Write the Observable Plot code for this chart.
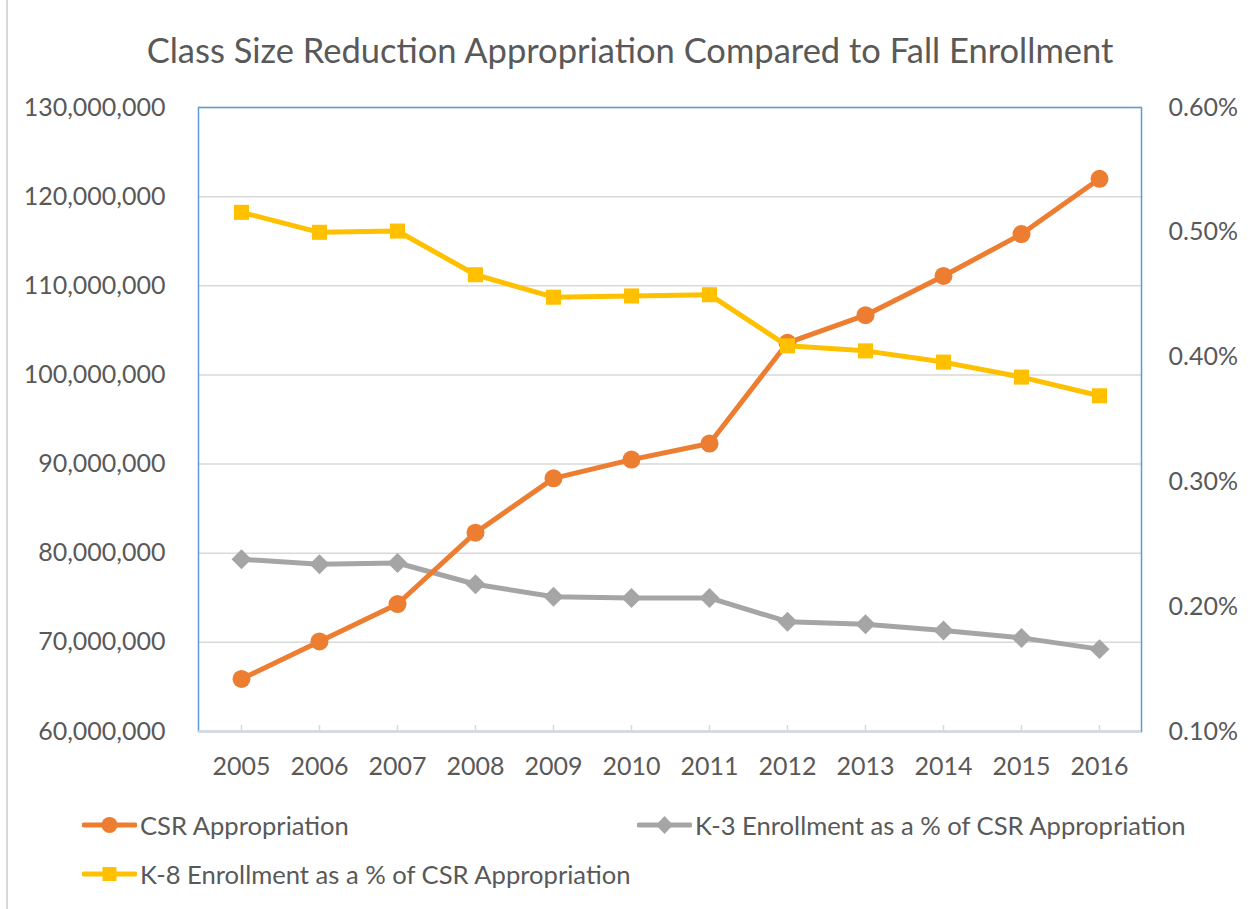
<!DOCTYPE html>
<html>
<head>
<meta charset="utf-8">
<script src="https://cdn.jsdelivr.net/npm/d3@7"></script>
<script src="https://cdn.jsdelivr.net/npm/@observablehq/plot@0.6"></script>
<style>
  html, body { margin: 0; padding: 0; background: #fff; }
  body { width: 1252px; height: 909px; overflow: hidden; position: relative; font-family: Lato, "Open Sans", sans-serif; color: #595959; }
  #edge { position: absolute; left: 6px; top: 0; width: 2px; height: 909px; background: #d9d9d9; }
  #title { height: 80px; width: 1252px; text-align: center; font-size: 34.5px; line-height: 100px; padding-left: 8px; box-sizing: border-box; white-space: nowrap; }
  #legend { position: relative; height: 109px; width: 1252px; font-size: 25.6px; }
  .item { position: absolute; display: flex; align-items: center; white-space: nowrap; }
  .item svg { margin-right: 3px; }
</style>
</head>
<body>
<div id="edge"></div>
<div id="title">Class Size Reduction Appropriation Compared to Fall Enrollment</div>
<div id="chart"></div>
<div id="legend"></div>
<script>
const years = [2005, 2006, 2007, 2008, 2009, 2010, 2011, 2012, 2013, 2014, 2015, 2016];
const csrAppropriation = [65.9e6, 70.1e6, 74.3e6, 82.3e6, 88.4e6, 90.5e6, 92.3e6, 103.6e6, 106.7e6, 111.1e6, 115.8e6, 122.0e6];
const k3Percent = [0.238, 0.234, 0.235, 0.218, 0.208, 0.207, 0.207, 0.188, 0.186, 0.181, 0.175, 0.166];
const k8Percent = [0.516, 0.500, 0.501, 0.466, 0.448, 0.449, 0.450, 0.409, 0.405, 0.396, 0.384, 0.369];
const leftTicks = [60e6, 70e6, 80e6, 90e6, 100e6, 110e6, 120e6, 130e6];
const rightTicks = [0.10, 0.20, 0.30, 0.40, 0.50, 0.60];
const seriesNames = ["CSR Appropriation", "K-3 Enrollment as a % of CSR Appropriation", "K-8 Enrollment as a % of CSR Appropriation"];
const seriesColors = ["#ed7d31", "#a5a5a5", "#ffc000"];

// secondary (percent) axis mapped onto primary domain
const leftMin = 60e6, leftMax = 130e6, rightMin = 0.10, rightMax = 0.60;
const toLeft = p => leftMin + (p - rightMin) / (rightMax - rightMin) * (leftMax - leftMin);
const toRight = v => rightMin + (v - leftMin) / (leftMax - leftMin) * (rightMax - rightMin);

const csrData = years.map((year, i) => ({year, value: csrAppropriation[i]}));
const k3Data = years.map((year, i) => ({year, value: k3Percent[i]}));
const k8Data = years.map((year, i) => ({year, value: k8Percent[i]}));

const textColor = "#595959";
const gridColor = "#d9d9d9";
const frameColor = "#5b9bd5";
const axisFont = 25;

const chart = Plot.plot({
  width: 1252,
  height: 720,
  marginTop: 27,
  marginBottom: 69,
  marginLeft: 198,
  marginRight: 111,
  style: {fontFamily: "Lato, 'Open Sans', sans-serif", fontSize: axisFont + "px", color: textColor, background: "transparent"},
  x: {type: "point", domain: years, padding: 0.5},
  y: {domain: [leftMin, leftMax]},
  marks: [
    Plot.gridY(leftTicks, {stroke: gridColor, strokeOpacity: 1, strokeWidth: 1.5}),
    Plot.frame({stroke: frameColor, strokeWidth: 1.5}),
    Plot.ruleY([leftMin], {stroke: gridColor, strokeWidth: 2}),
    Plot.axisY(leftTicks, {anchor: "left", tickSize: 0, tickPadding: 33, tickFormat: d3.format(","), fill: textColor, fontSize: axisFont, label: null}),
    Plot.axisY(rightTicks.map(toLeft), {anchor: "right", tickSize: 0, tickPadding: 27, tickFormat: v => toRight(v).toFixed(2) + "%", fill: textColor, fontSize: axisFont, label: null}),
    Plot.axisX({tickSize: -6, tickPadding: 32, stroke: gridColor, strokeWidth: 1.5, fill: textColor, fontSize: axisFont, tickFormat: d => String(d), label: null}),
    Plot.line(k3Data, {x: "year", y: d => toLeft(d.value), stroke: seriesColors[1], strokeWidth: 5}),
    Plot.dot(k3Data, {x: "year", y: d => toLeft(d.value), symbol: "diamond2", r: 9, fill: seriesColors[1], stroke: "none"}),
    Plot.line(csrData, {x: "year", y: "value", stroke: seriesColors[0], strokeWidth: 5}),
    Plot.dot(csrData, {x: "year", y: "value", symbol: "circle", r: 9, fill: seriesColors[0], stroke: "none"}),
    Plot.line(k8Data, {x: "year", y: d => toLeft(d.value), stroke: seriesColors[2], strokeWidth: 5}),
    Plot.dot(k8Data, {x: "year", y: d => toLeft(d.value), symbol: "square", r: 8.5, fill: seriesColors[2], stroke: "none"})
  ]
});
document.getElementById("chart").appendChild(chart);

// legend
const legend = document.getElementById("legend");
const legendPos = [[82, 25], [637, 25], [82, 74]];
const markerShapes = ["circle", "diamond", "square"];
seriesNames.forEach((name, i) => {
  const item = document.createElement("div");
  item.className = "item";
  item.style.left = legendPos[i][0] + "px";
  item.style.top = (legendPos[i][1] - 15) + "px";
  item.style.height = "30px";
  const c = seriesColors[i];
  let shape;
  if (markerShapes[i] === "circle") shape = `<circle cx="27.5" cy="15" r="8" fill="${c}"/>`;
  else if (markerShapes[i] === "diamond") shape = `<path d="M27.5 6 L36 15 L27.5 24 L19 15 Z" fill="${c}"/>`;
  else shape = `<rect x="20.5" y="8" width="14" height="14" fill="${c}"/>`;
  item.innerHTML = `<svg width="55" height="30"><line x1="2" y1="15" x2="53" y2="15" stroke="${c}" stroke-width="5" stroke-linecap="round"/>${shape}</svg><span>${name}</span>`;
  legend.appendChild(item);
});
</script>
</body>
</html>
